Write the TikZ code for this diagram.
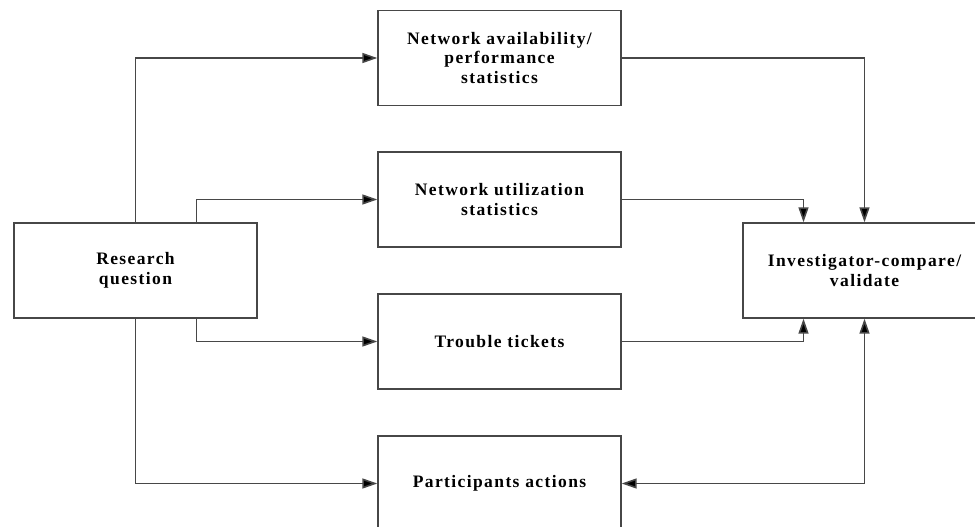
\documentclass[tikz,border=0pt]{standalone}
\usepackage{fontspec}
\setmainfont{Liberation Serif}[LetterSpace=8]
\usetikzlibrary{arrows.meta}
\begin{document}
\begin{tikzpicture}[x=1pt,y=-1pt,
  box/.style={draw=black!72, line width=1.4pt, fill=white, minimum width=243pt, minimum height=95pt,
    inner sep=0pt, align=center, font=\fontsize{17.5}{19.5}\selectfont\bfseries},
  link/.style={draw=black!72, line width=1.6pt, -{Triangle[length=15pt,width=10pt,fill=black]}},
  both/.style={draw=black!72, line width=1.6pt, {Triangle[length=15pt,width=10pt,fill=black]}-{Triangle[length=15pt,width=10pt,fill=black]}}]
\useasboundingbox (0,0) rectangle (975,527);
\clip (0,0) rectangle (975,527);
\node[box] (res)   at (135.5,270.5) {Research\\question};
\node[box] (avail) at (499.5,58)    {Network availability/\\performance\\statistics};
\node[box] (util)  at (499.5,199.5) {Network utilization\\statistics};
\node[box] (tick)  at (499.5,341.5) {Trouble tickets};
\node[box] (part)  at (499.5,483.5) {Participants actions};
\node[box] (inv)   at (864.5,270.5) {Investigator-compare/\\validate};
\draw[link] (res.north) |- (avail.west);
\draw[link] ([xshift=61pt]res.north) |- (util.west);
\draw[link] ([xshift=61pt]res.south) |- (tick.west);
\draw[link] (res.south) |- (part.west);
\draw[link] (avail.east) -| (inv.north);
\draw[link] (util.east) -| ([xshift=-61pt]inv.north);
\draw[link] (tick.east) -| ([xshift=-61pt]inv.south);
\draw[both] (part.east) -| (inv.south);
\end{tikzpicture}
\end{document}
